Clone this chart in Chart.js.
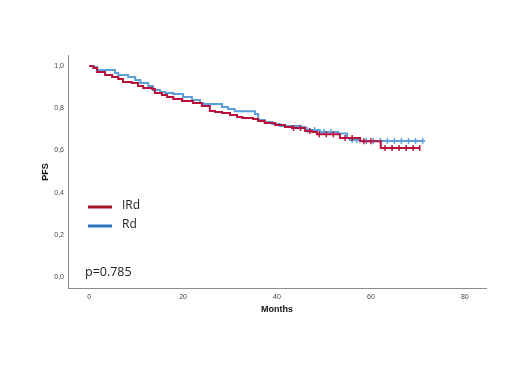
<!DOCTYPE html>
<html>
<head>
<meta charset="utf-8">
<script src="https://cdn.jsdelivr.net/npm/chart.js@4.4.1/dist/chart.umd.min.js"></script>
<style>
    html, body { margin: 0; padding: 0; background: #fff; }
    #wrap { width: 520px; height: 390px; position: relative; }
</style>
</head>
<body>
<div id="wrap"><canvas id="kmChart" width="520" height="390"></canvas></div>
<script>
// Kaplan-Meier steps (months, PFS)
const irdTime = [0, 0.9, 1.7, 3.4, 4.9, 6.2, 7.2, 9.1, 10.4, 11.5, 13.4, 14.0, 15.5, 16.6, 17.9, 19.8, 22.1, 24.0, 25.7, 26.8, 28.3, 30.0, 31.5, 32.6, 34.9, 36.0, 37.4, 39.6, 41.7, 43.2, 46.0, 47.5, 48.5, 53.4, 57.7, 62.1, 70.4];
const irdPfs = [1.0, 0.990, 0.972, 0.957, 0.948, 0.938, 0.924, 0.919, 0.905, 0.896, 0.891, 0.872, 0.863, 0.853, 0.844, 0.834, 0.825, 0.810, 0.787, 0.782, 0.777, 0.768, 0.758, 0.754, 0.749, 0.739, 0.730, 0.720, 0.711, 0.706, 0.692, 0.687, 0.676, 0.659, 0.643, 0.611, 0.611];

const rdTime = [0, 0.9, 1.7, 5.5, 6.2, 8.3, 9.8, 10.9, 12.6, 13.6, 15.1, 16.2, 17.9, 20.0, 21.9, 23.6, 24.3, 28.3, 29.6, 31.0, 35.3, 36.0, 37.4, 39.0, 40.6, 44.9, 46.0, 49.1, 53.0, 54.9, 55.5, 57.7, 71.5];
const rdPfs = [1.0, 0.995, 0.981, 0.967, 0.957, 0.948, 0.934, 0.919, 0.905, 0.886, 0.877, 0.872, 0.867, 0.853, 0.839, 0.825, 0.820, 0.806, 0.796, 0.785, 0.773, 0.744, 0.735, 0.725, 0.716, 0.711, 0.697, 0.687, 0.680, 0.659, 0.649, 0.645, 0.645];

// censored observations (months)
const irdCensor = [43.5, 45, 47, 49, 50.5, 52, 54.5, 56, 58.5, 60, 63, 64.5, 66, 67.5, 69, 70.4];
const rdCensor = [46.5, 48, 50, 51.5, 56, 57, 59, 60.5, 62, 63.5, 65, 66.5, 68, 69.5, 71];

const xTicks = [0, 20, 40, 60, 80];
const yTicks = [0, 0.2, 0.4, 0.6, 0.8, 1.0];

const redLine = '#b8123c';
const blueLine = '#5b9fd9';

function toPoints(t, s) {
    return t.map((v, i) => ({ x: v, y: s[i] }));
}

// value of the step curve at time x
function stepValue(t, s, x) {
    let val = s[0];
    for (let i = 0; i < t.length; i++) {
        if (t[i] <= x) val = s[i];
    }
    return val;
}

function censorPoints(c, t, s) {
    return c.map(x => ({ x: x, y: stepValue(t, s, x) }));
}

// legend, p value and axis titles
const annotations = {
    id: 'annotations',
    afterDraw(chart) {
        const ctx = chart.ctx;
        ctx.save();
        ctx.lineWidth = 3;
        ctx.strokeStyle = '#a3162b';
        ctx.beginPath(); ctx.moveTo(88, 207); ctx.lineTo(112, 207); ctx.stroke();
        ctx.strokeStyle = '#2a76c2';
        ctx.beginPath(); ctx.moveTo(88, 226); ctx.lineTo(112, 226); ctx.stroke();

        ctx.fillStyle = '#222';
        ctx.textBaseline = 'middle';
        ctx.textAlign = 'left';
        ctx.font = '12px "Open Sans", sans-serif';
        ctx.fillText('IRd', 122, 206);
        ctx.fillText('Rd', 122, 225);
        ctx.font = '12.5px "Open Sans", sans-serif';
        ctx.fillText('p=0.785', 85, 272);

        ctx.fillStyle = '#111';
        ctx.font = 'bold 9px "Liberation Sans", Arial, sans-serif';
        ctx.textAlign = 'center';
        ctx.fillText('Months', 277, 310);
        ctx.translate(46, 172);
        ctx.rotate(-Math.PI / 2);
        ctx.fillText('PFS', 0, 0);
        ctx.restore();
    }
};

const ctx = document.getElementById('kmChart').getContext('2d');
new Chart(ctx, {
    type: 'line',
    data: {
        datasets: [
            {
                label: 'IRd censored',
                type: 'scatter',
                data: censorPoints(irdCensor, irdTime, irdPfs),
                pointStyle: 'line',
                rotation: 90,
                radius: 3,
                borderColor: redLine,
                borderWidth: 1.5
            },
            {
                label: 'IRd',
                data: toPoints(irdTime, irdPfs),
                stepped: true,
                borderColor: redLine,
                borderWidth: 2,
                pointRadius: 0,
                fill: false
            },
            {
                label: 'Rd censored',
                type: 'scatter',
                data: censorPoints(rdCensor, rdTime, rdPfs),
                pointStyle: 'line',
                rotation: 90,
                radius: 3,
                borderColor: blueLine,
                borderWidth: 1.5
            },
            {
                label: 'Rd',
                data: toPoints(rdTime, rdPfs),
                stepped: true,
                borderColor: blueLine,
                borderWidth: 2,
                pointRadius: 0,
                fill: false
            }
        ]
    },
    options: {
        responsive: false,
        animation: false,
        layout: { padding: { left: 0, top: 55, right: 34, bottom: 0 } },
        plugins: {
            legend: { display: false },
            tooltip: { enabled: false }
        },
        scales: {
            x: {
                type: 'linear',
                min: -4.5,
                max: 84.5,
                afterBuildTicks: scale => { scale.ticks = xTicks.map(v => ({ value: v })); },
                afterFit: scale => { scale.height = 102; },
                grid: { display: false, drawTicks: false },
                border: { color: '#8c8c8c', width: 1 },
                ticks: { color: '#444', font: { size: 7, family: 'Liberation Sans' }, padding: 5, maxRotation: 0 }
            },
            y: {
                type: 'linear',
                min: -0.052,
                max: 1.052,
                afterBuildTicks: scale => { scale.ticks = yTicks.map(v => ({ value: v })); },
                afterFit: scale => { scale.width = 68; },
                grid: { display: false, drawTicks: false },
                border: { color: '#8c8c8c', width: 1 },
                ticks: {
                    color: '#444',
                    font: { size: 7, family: 'Liberation Sans' },
                    padding: 4,
                    callback: v => v.toFixed(1).replace('.', ',')
                }
            }
        }
    },
    plugins: [annotations]
});
</script>
</body>
</html>
